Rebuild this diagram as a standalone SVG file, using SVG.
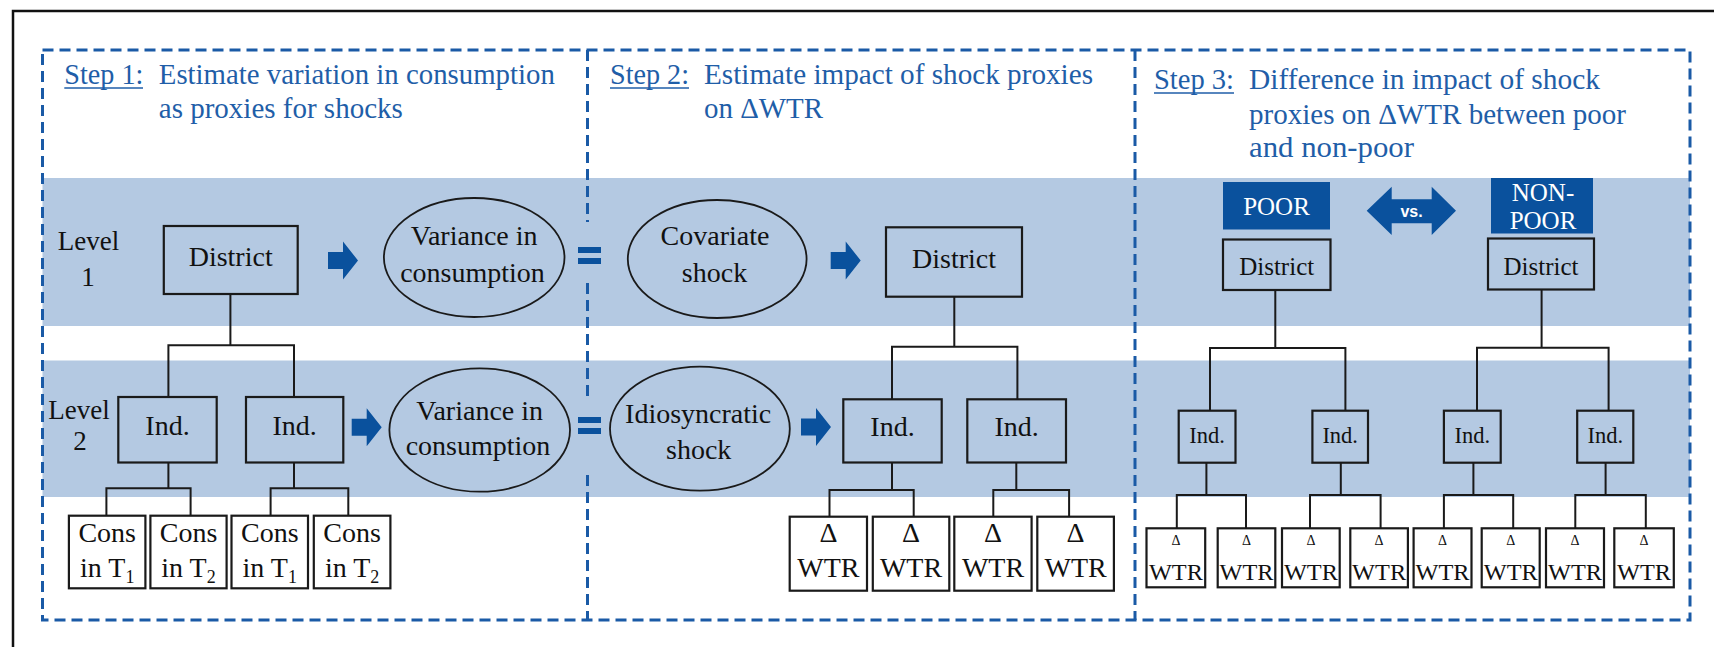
<svg xmlns="http://www.w3.org/2000/svg" width="1714" height="647" viewBox="0 0 1714 647" font-family="'Liberation Serif', 'Times New Roman', serif">
  <style>
    .lb{font-size:28px;fill:#111;text-anchor:middle}
    .s3{fill:#111;text-anchor:middle}
    .wt{fill:#fff;text-anchor:middle}
    .box{fill:none;stroke:#1a1a1a;stroke-width:2.2}
    .wbox{fill:#fff;stroke:#1a1a1a;stroke-width:2.2}
    .ell{fill:none;stroke:#1a1a1a;stroke-width:1.8}
    .dash{fill:none;stroke:#1a5aa6;stroke-width:3;stroke-dasharray:11 6}
    .band{fill:#b4c9e2}
    .blue{fill:#0a519d}
    .uline{stroke:#1f5ea8;stroke-width:1.5}
    #connectors path{fill:none;stroke:#1a1a1a;stroke-width:2}
  </style>
  <defs>
    <path id="rarrow" d="M0,-8.5 H15 V-19 L30,0 L15,19 V8.5 H0 Z"/>
  </defs>

  <rect width="1714" height="647" fill="#fff"/>

  <!-- level bands -->
  <rect class="band" x="42.5" y="178" width="1647.5" height="148"/>
  <rect class="band" x="42.5" y="360.5" width="1647.5" height="136.5"/>

  <!-- outer frame (runs past the right and bottom edges) -->
  <path d="M13,660 V11 H1720" fill="none" stroke="#111" stroke-width="2.5"/>

  <!-- dashed step panels -->
  <g id="panels">
    <rect class="dash" x="42.5" y="50" width="1647.5" height="570"/>
    <path class="dash" d="M587.5,50 V222 M587.5,283 V397 M587.5,475 V620"/>
    <path class="dash" d="M1135,50 V620"/>
  </g>

  <!-- step headings -->
  <g id="step1-title" font-size="29" fill="#1f5ea8">
    <text x="64.3" y="84" textLength="79" lengthAdjust="spacingAndGlyphs">Step 1:</text>
    <line class="uline" x1="64.3" y1="88" x2="143" y2="88"/>
    <text x="158.8" y="84" textLength="396" lengthAdjust="spacingAndGlyphs">Estimate variation in consumption</text>
    <text x="158.8" y="118" textLength="244" lengthAdjust="spacingAndGlyphs">as proxies for shocks</text>
  </g>
  <g id="step2-title" font-size="29" fill="#1f5ea8">
    <text x="610" y="84" textLength="79" lengthAdjust="spacingAndGlyphs">Step 2:</text>
    <line class="uline" x1="610" y1="88" x2="689" y2="88"/>
    <text x="704" y="84" textLength="389" lengthAdjust="spacingAndGlyphs">Estimate impact of shock proxies</text>
    <text x="704" y="118" textLength="119" lengthAdjust="spacingAndGlyphs">on ΔWTR</text>
  </g>
  <g id="step3-title" font-size="29" fill="#1f5ea8">
    <text x="1154" y="89" textLength="80" lengthAdjust="spacingAndGlyphs">Step 3:</text>
    <line class="uline" x1="1154" y1="93" x2="1234" y2="93"/>
    <text x="1249" y="89" textLength="351" lengthAdjust="spacingAndGlyphs">Difference in impact of shock</text>
    <text x="1249" y="124" textLength="377" lengthAdjust="spacingAndGlyphs">proxies on ΔWTR between poor</text>
    <text x="1249" y="157" textLength="165" lengthAdjust="spacingAndGlyphs">and non-poor</text>
  </g>

  <!-- level labels -->
  <g id="level1-label">
    <text class="lb" x="88.6" y="250" style="font-size:27px">Level</text>
    <text class="lb" x="88" y="286" style="font-size:27px">1</text>
  </g>
  <g id="level2-label">
    <text class="lb" x="79" y="419" style="font-size:27px">Level</text>
    <text class="lb" x="80" y="450" style="font-size:27px">2</text>
  </g>

  <!-- Step 1 nodes -->
  <g id="s1-district">
    <rect class="box" x="163.8" y="226" width="133.9" height="68"/>
    <text class="lb" x="230.7" y="266">District</text>
  </g>
  <g id="s1-ind1">
    <rect class="box" x="118.3" y="397" width="98.4" height="65.5"/>
    <text class="lb" x="167.5" y="435">Ind.</text>
  </g>
  <g id="s1-ind2">
    <rect class="box" x="246" y="397" width="97.3" height="65.5"/>
    <text class="lb" x="294.7" y="435">Ind.</text>
  </g>
  <g id="s1-cons1">
    <rect class="wbox" x="68.9" y="515.7" width="76.5" height="72.6"/>
    <text class="lb" x="107.2" y="541.7">Cons</text>
    <text class="lb" x="107.2" y="576.7">in T<tspan font-size="18" dy="6">1</tspan></text>
  </g>
  <g id="s1-cons2">
    <rect class="wbox" x="150.4" y="515.7" width="76.2" height="72.6"/>
    <text class="lb" x="188.5" y="541.7">Cons</text>
    <text class="lb" x="188.5" y="576.7">in T<tspan font-size="18" dy="6">2</tspan></text>
  </g>
  <g id="s1-cons3">
    <rect class="wbox" x="231.5" y="515.7" width="76.5" height="72.6"/>
    <text class="lb" x="269.8" y="541.7">Cons</text>
    <text class="lb" x="269.8" y="576.7">in T<tspan font-size="18" dy="6">1</tspan></text>
  </g>
  <g id="s1-cons4">
    <rect class="wbox" x="313.8" y="515.7" width="76.6" height="72.6"/>
    <text class="lb" x="352.1" y="541.7">Cons</text>
    <text class="lb" x="352.1" y="576.7">in T<tspan font-size="18" dy="6">2</tspan></text>
  </g>
  <g id="s1-variance1">
    <ellipse class="ell" cx="474.2" cy="257.5" rx="90.3" ry="59.5"/>
    <text class="lb" x="474.2" y="245">Variance in</text>
    <text class="lb" x="472.5" y="281.7">consumption</text>
  </g>
  <g id="s1-variance2">
    <ellipse class="ell" cx="479.7" cy="430" rx="90.3" ry="61.7"/>
    <text class="lb" x="479.7" y="420">Variance in</text>
    <text class="lb" x="478" y="455">consumption</text>
  </g>

  <!-- equals signs between steps 1 and 2 -->
  <g id="equals">
    <rect class="blue" x="578" y="247" width="23" height="6"/>
    <rect class="blue" x="578" y="258" width="23" height="6"/>
    <rect class="blue" x="578" y="417" width="23" height="6"/>
    <rect class="blue" x="578" y="428" width="23" height="6"/>
  </g>

  <!-- Step 2 nodes -->
  <g id="s2-covariate">
    <ellipse class="ell" cx="717.2" cy="259" rx="89.4" ry="59"/>
    <text class="lb" x="715" y="245">Covariate</text>
    <text class="lb" x="714.5" y="281.7">shock</text>
  </g>
  <g id="s2-idiosyncratic">
    <ellipse class="ell" cx="699.9" cy="428.7" rx="89.9" ry="62"/>
    <text class="lb" x="698.2" y="423">Idiosyncratic</text>
    <text class="lb" x="698.7" y="459.3">shock</text>
  </g>
  <g id="s2-district">
    <rect class="box" x="886" y="227.3" width="136" height="69.4"/>
    <text class="lb" x="954" y="268">District</text>
  </g>
  <g id="s2-ind1">
    <rect class="box" x="843.3" y="399.3" width="98.4" height="63.2"/>
    <text class="lb" x="892.5" y="436">Ind.</text>
  </g>
  <g id="s2-ind2">
    <rect class="box" x="967.3" y="399.3" width="98.7" height="63.2"/>
    <text class="lb" x="1016.7" y="436">Ind.</text>
  </g>
  <g id="s2-wtr1">
    <rect class="wbox" x="789.7" y="516.7" width="77.3" height="74"/>
    <text class="lb" x="828.4" y="541.7">Δ</text>
    <text class="lb" x="828.4" y="577.3">WTR</text>
  </g>
  <g id="s2-wtr2">
    <rect class="wbox" x="872.8" y="516.7" width="76.5" height="74"/>
    <text class="lb" x="911" y="541.7">Δ</text>
    <text class="lb" x="911" y="577.3">WTR</text>
  </g>
  <g id="s2-wtr3">
    <rect class="wbox" x="954.3" y="516.7" width="77.3" height="74"/>
    <text class="lb" x="993" y="541.7">Δ</text>
    <text class="lb" x="993" y="577.3">WTR</text>
  </g>
  <g id="s2-wtr4">
    <rect class="wbox" x="1037.3" y="516.7" width="76.6" height="74"/>
    <text class="lb" x="1075.6" y="541.7">Δ</text>
    <text class="lb" x="1075.6" y="577.3">WTR</text>
  </g>

  <!-- block arrows -->
  <g id="arrows" class="blue">
    <use href="#rarrow" x="328" y="260.5"/>
    <use href="#rarrow" x="830.7" y="260.5"/>
    <use href="#rarrow" x="351.7" y="427.2"/>
    <use href="#rarrow" x="801" y="427"/>
  </g>

  <!-- Step 3 nodes -->
  <g id="s3-poor">
    <rect class="blue" x="1223" y="182" width="107" height="47.5"/>
    <text class="wt" x="1276.5" y="215" font-size="25">POOR</text>
  </g>
  <g id="s3-vs">
    <polygon class="blue" points="1366.7,210.7 1391.7,186.7 1391.7,199.3 1431.7,199.3 1431.7,186.7 1456,210.7 1431.7,235 1431.7,223.3 1391.7,223.3 1391.7,235"/>
    <text x="1411.5" y="216.5" font-family="'Liberation Sans', Arial, sans-serif" font-weight="bold" font-size="16" fill="#fff" text-anchor="middle">vs.</text>
  </g>
  <g id="s3-nonpoor">
    <rect class="blue" x="1491" y="178" width="102" height="55.5"/>
    <text class="wt" x="1543" y="201" font-size="25">NON-</text>
    <text class="wt" x="1543" y="229" font-size="25">POOR</text>
  </g>
  <g id="s3-district-poor">
    <rect class="box" x="1223" y="239.5" width="107.5" height="50.5" stroke-width="2.6"/>
    <text class="s3" x="1276.7" y="275" font-size="25">District</text>
  </g>
  <g id="s3-district-nonpoor">
    <rect class="box" x="1488" y="238.5" width="106" height="51" stroke-width="2.6"/>
    <text class="s3" x="1541" y="275" font-size="25">District</text>
  </g>
  <g id="s3-ind1">
    <rect class="box" x="1178.7" y="410.7" width="56.8" height="52" stroke-width="2.6"/>
    <text class="s3" x="1207.1" y="443" font-size="22.5">Ind.</text>
  </g>
  <g id="s3-ind2">
    <rect class="box" x="1312.4" y="410.7" width="55.6" height="52" stroke-width="2.6"/>
    <text class="s3" x="1340.2" y="443" font-size="22.5">Ind.</text>
  </g>
  <g id="s3-ind3">
    <rect class="box" x="1443.9" y="410.7" width="56.8" height="52" stroke-width="2.6"/>
    <text class="s3" x="1472.3" y="443" font-size="22.5">Ind.</text>
  </g>
  <g id="s3-ind4">
    <rect class="box" x="1577.2" y="410.7" width="56.1" height="52" stroke-width="2.6"/>
    <text class="s3" x="1605.3" y="443" font-size="22.5">Ind.</text>
  </g>
  <g id="s3-wtr1">
    <rect class="wbox" x="1146.5" y="528.3" width="58.7" height="59" stroke-width="2.6"/>
    <text class="s3" x="1175.9" y="545" font-size="14">Δ</text>
    <text class="s3" x="1175.9" y="580" font-size="24" textLength="54" lengthAdjust="spacingAndGlyphs">WTR</text>
  </g>
  <g id="s3-wtr2">
    <rect class="wbox" x="1217.7" y="528.3" width="57.6" height="59" stroke-width="2.6"/>
    <text class="s3" x="1246.5" y="545" font-size="14">Δ</text>
    <text class="s3" x="1246.5" y="580" font-size="24" textLength="54" lengthAdjust="spacingAndGlyphs">WTR</text>
  </g>
  <g id="s3-wtr3">
    <rect class="wbox" x="1282" y="528.3" width="57.7" height="59" stroke-width="2.6"/>
    <text class="s3" x="1310.9" y="545" font-size="14">Δ</text>
    <text class="s3" x="1310.9" y="580" font-size="24" textLength="54" lengthAdjust="spacingAndGlyphs">WTR</text>
  </g>
  <g id="s3-wtr4">
    <rect class="wbox" x="1350.3" y="528.3" width="57.6" height="59" stroke-width="2.6"/>
    <text class="s3" x="1379.1" y="545" font-size="14">Δ</text>
    <text class="s3" x="1379.1" y="580" font-size="24" textLength="54" lengthAdjust="spacingAndGlyphs">WTR</text>
  </g>
  <g id="s3-wtr5">
    <rect class="wbox" x="1413.6" y="528.3" width="57.9" height="59" stroke-width="2.6"/>
    <text class="s3" x="1442.5" y="545" font-size="14">Δ</text>
    <text class="s3" x="1442.5" y="580" font-size="24" textLength="54" lengthAdjust="spacingAndGlyphs">WTR</text>
  </g>
  <g id="s3-wtr6">
    <rect class="wbox" x="1481.7" y="528.3" width="58" height="59" stroke-width="2.6"/>
    <text class="s3" x="1510.7" y="545" font-size="14">Δ</text>
    <text class="s3" x="1510.7" y="580" font-size="24" textLength="54" lengthAdjust="spacingAndGlyphs">WTR</text>
  </g>
  <g id="s3-wtr7">
    <rect class="wbox" x="1546" y="528.3" width="58" height="59" stroke-width="2.6"/>
    <text class="s3" x="1575" y="545" font-size="14">Δ</text>
    <text class="s3" x="1575" y="580" font-size="24" textLength="54" lengthAdjust="spacingAndGlyphs">WTR</text>
  </g>
  <g id="s3-wtr8">
    <rect class="wbox" x="1614.3" y="528.3" width="59.5" height="59" stroke-width="2.6"/>
    <text class="s3" x="1644" y="545" font-size="14">Δ</text>
    <text class="s3" x="1644" y="580" font-size="24" textLength="54" lengthAdjust="spacingAndGlyphs">WTR</text>
  </g>

  <!-- tree connectors -->
  <g id="connectors">
    <!-- step 1 -->
    <path d="M230.4,294 V345.3 M168.4,397 V345.3 H294 V397"/>
    <path d="M168.4,462.5 V488.3 M106.4,515.7 V488.3 H190.6 V515.7"/>
    <path d="M294,462.5 V488.3 M270.6,515.7 V488.3 H348.3 V515.7"/>
    <!-- step 2 -->
    <path d="M954.3,296.7 V346.7 M892,399.3 V346.7 H1017.4 V399.3"/>
    <path d="M892,462.5 V490 M829.5,516.7 V490 H913.7 V516.7"/>
    <path d="M1016.3,462.5 V490 M993.3,516.7 V490 H1069.1 V516.7"/>
    <!-- step 3 -->
    <path d="M1275.3,290 V348 M1210,410.7 V348 H1345.4 V410.7"/>
    <path d="M1541.6,289.5 V347.7 M1477,410.7 V347.7 H1608.6 V410.7"/>
    <path d="M1206.4,462.7 V495 M1176.8,528.3 V495 H1246 V528.3"/>
    <path d="M1340.8,462.7 V495 M1310,528.3 V495 H1380.6 V528.3"/>
    <path d="M1473.4,462.7 V495 M1443.9,528.3 V495 H1513.2 V528.3"/>
    <path d="M1605.6,462.7 V495 M1575.3,528.3 V495 H1645.8 V528.3"/>
  </g>
</svg>
